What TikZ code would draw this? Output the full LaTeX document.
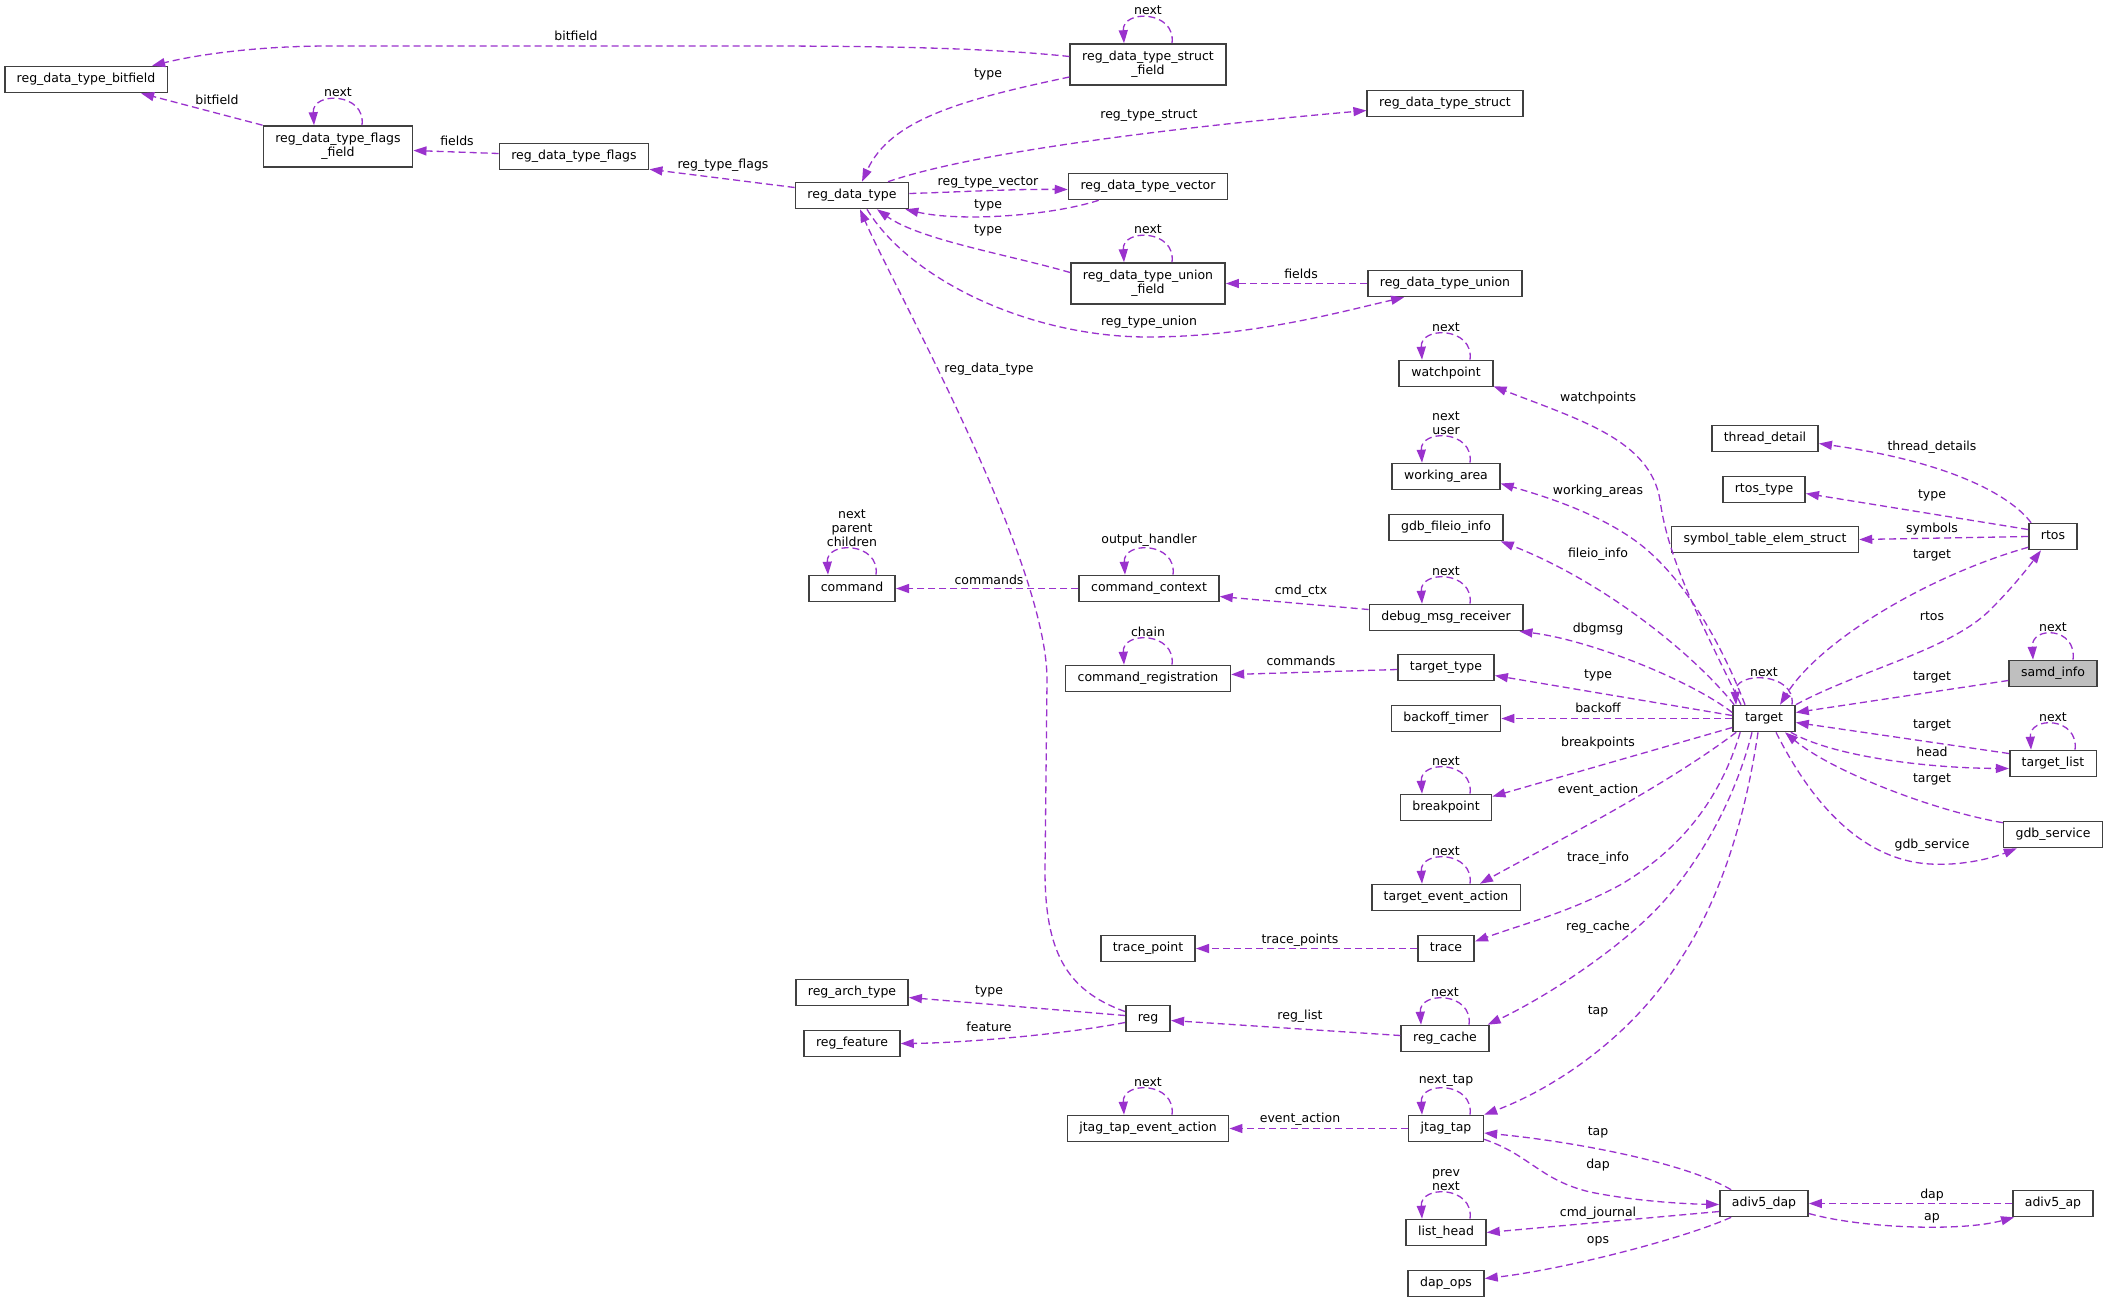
\documentclass[tikz,border=0pt]{standalone}
\usepackage{fontspec}
\setmainfont{DejaVu Sans}
\usetikzlibrary{arrows.meta,calc}
\definecolor{edgec}{HTML}{9A32CD}
\definecolor{boxc}{HTML}{404040}
\definecolor{grayfill}{HTML}{BFBFBF}
\tikzset{
 cls/.style={draw=boxc, line width=1.6pt, fill=white, rectangle, inner xsep=12pt, inner ysep=0pt, minimum height=26pt, text height=9.5pt, text depth=3pt, font=\fontsize{12.5}{14}\selectfont},
 cls2/.style={draw=boxc, line width=1.6pt, fill=white, rectangle, inner xsep=12pt, inner ysep=0pt, minimum height=41pt, align=center, font=\fontsize{12.5}{14}\selectfont},
 edge/.style={draw=edgec, line width=1.3pt, dash pattern=on 7pt off 4pt, -{Triangle[length=13pt,width=9pt,fill=edgec]}},
 elbl/.style={inner sep=0pt, text height=9.5pt, text depth=3pt, font=\fontsize{12.5}{14}\selectfont},
 looplbl/.style={inner sep=0pt, anchor=south, align=center, font=\fontsize{12.5}{14}\selectfont},
}
\newcommand{\selfloop}[3][24]{%
 \draw[edge] ($(#2.north)+(#1,0)$) .. controls +(4,-33) and +(-2,-34) .. ($(#2.north)+(-#1,0)$);
 \node[looplbl] (#2-lbl) at ($(#2.north)+(0,-28)$) {#3};}
\begin{document}
\begin{tikzpicture}[x=1pt,y=-1pt]
\useasboundingbox (0,0) rectangle (2108,1299);
\fill[white] (0,0) rectangle (2108,1299);
% nodes
\begin{scope}[yshift=-0.5pt]
\node[cls] (bitfield) at (86,79) {reg\_data\_type\_bitfield};
\node[cls2] (flagsfield) at (338,146) {reg\_data\_type\_flags\\\_field};
\node[cls] (flags) at (574,156) {reg\_data\_type\_flags};
\node[cls] (rdt) at (852,195) {reg\_data\_type};
\node[cls2] (structfield) at (1148,64) {reg\_data\_type\_struct\\\_field};
\node[cls] (struct) at (1445,103) {reg\_data\_type\_struct};
\node[cls] (vector) at (1148,186) {reg\_data\_type\_vector};
\node[cls2] (unionfield) at (1148,283) {reg\_data\_type\_union\\\_field};
\node[cls] (union) at (1445,283) {reg\_data\_type\_union};
\node[cls] (command) at (852,588) {command};
\node[cls] (cmdctx) at (1149,588) {command\_context};
\node[cls] (cmdreg) at (1148,678) {command\_registration};
\node[cls] (tracepoint) at (1148,948) {trace\_point};
\node[cls] (regarch) at (852,992) {reg\_arch\_type};
\node[cls] (regfeat) at (852,1043) {reg\_feature};
\node[cls] (reg) at (1148,1018) {reg};
\node[cls] (jtea) at (1148,1128) {jtag\_tap\_event\_action};
\node[cls] (watchpoint) at (1446,373) {watchpoint};
\node[cls] (workarea) at (1446,476) {working\_area};
\node[cls] (fileio) at (1446,527) {gdb\_fileio\_info};
\node[cls] (dmr) at (1446,617) {debug\_msg\_receiver};
\node[cls] (ttype) at (1446,667) {target\_type};
\node[cls] (backoff) at (1446,718) {backoff\_timer};
\node[cls] (breakpoint) at (1446,807) {breakpoint};
\node[cls] (tea) at (1446,897) {target\_event\_action};
\node[cls] (trace) at (1446,948) {trace};
\node[cls] (regcache) at (1445,1038) {reg\_cache};
\node[cls] (jtag) at (1446,1128) {jtag\_tap};
\node[cls] (listhead) at (1446,1232) {list\_head};
\node[cls] (dapops) at (1446,1283) {dap\_ops};
\node[cls] (target) at (1764,718) {target};
\node[cls] (thread) at (1765,438) {thread\_detail};
\node[cls] (rtostype) at (1764,489) {rtos\_type};
\node[cls] (symtab) at (1765,539) {symbol\_table\_elem\_struct};
\node[cls] (adiv5dap) at (1764,1203) {adiv5\_dap};
\node[cls] (rtos) at (2053,536) {rtos};
\node[cls,fill=grayfill] (samd) at (2053,673) {samd\_info};
\node[cls] (tlist) at (2053,763) {target\_list};
\node[cls] (gdbsvc) at (2053,834) {gdb\_service};
\node[cls] (adiv5ap) at (2053,1203) {adiv5\_ap};
\end{scope}
% edges
\draw[edge] ($(structfield.west)+(0,-8)$) .. controls (980,47) and (860,46) .. (750,46) -- (330,46) .. controls (260,46) and (200,54) .. ($(bitfield.north east)+(-16,0)$);
\draw[edge] (flagsfield.north west) -- ($(bitfield.south east)+(-27,0)$);
\draw[edge] ($(flags.west)+(0,-3)$) -- ($(flagsfield.east)+(0,4)$);
\draw[edge] ($(rdt.west)+(0,-8)$) -- ($(flags.south east)+(0,-1)$);
\draw[edge] ($(structfield.west)+(0,12.5)$) .. controls (960,100) and (890,120) .. ($(rdt.north)+(10,0)$);
\draw[edge] ($(rdt.north)+(36,0)$) .. controls (980,150) and (1200,125) .. ($(struct.west)+(0,7)$);
\draw[edge] ($(rdt.east)+(0,-2)$) .. controls (960,192) and (1010,189) .. ($(vector.west)+(0,3)$);
\draw[edge] ($(vector.south west)+(31,0)$) .. controls (1050,216) and (960,222) .. ($(rdt.south east)+(-4,0)$);
\draw[edge] ($(unionfield.west)+(0,-11)$) .. controls (1010,255) and (920,240) .. ($(rdt.south)+(25,0)$);
\draw[edge] (union.west) -- (unionfield.east);
\draw[edge] ($(rdt.south)+(15,0)$) .. controls (910,280) and (1030,337) .. (1148,337) .. controls (1250,337) and (1340,312) .. ($(union.south west)+(37,0)$);
\draw[edge] ($(reg.west)+(0,-7)$) .. controls (1065,990) and (1045,950) .. (1045,870) -- (1047,680) .. controls (1047,560) and (895,290) .. ($(rdt.south)+(8,0)$);
\draw[edge] (cmdctx.west) -- (command.east);
\draw[edge] ($(dmr.west)+(0,-8)$) -- ($(cmdctx.east)+(0,8)$);
\draw[edge] ($(ttype.west)+(0,2)$) -- ($(cmdreg.east)+(0,-4)$);
\draw[edge] ($(target.north)+(-23,0)$) .. controls (1700,620) and (1668,560) .. (1660,500) .. controls (1650,440) and (1580,420) .. ($(watchpoint.south east)+(0,-1)$);
\draw[edge] ($(target.north)+(-19,0)$) .. controls (1720,640) and (1680,570) .. (1630,537) .. controls (1590,510) and (1540,495) .. ($(workarea.east)+(0,7)$);
\draw[edge] ($(target.north west)+(2,0)$) .. controls (1690,650) and (1600,580) .. ($(fileio.south east)+(-3,0)$);
\draw[edge] ($(target.west)+(0,-6)$) .. controls (1690,680) and (1590,640) .. ($(dmr.south east)+(-4,0)$);
\draw[edge] ($(target.west)+(0,-3)$) -- ($(ttype.east)+(0,8)$);
\draw[edge] (target.west) -- (backoff.east);
\draw[edge] (target.north east) .. controls (1860,670) and (1950,650) .. (1990,610) .. controls (2015,585) and (2030,565) .. ($(rtos.south)+(-12,0)$);
\draw[edge] ($(rtos.south west)+(0,-3)$) .. controls (1930,575) and (1820,640) .. ($(target.north)+(16,0)$);
\draw[edge] ($(rtos.north west)+(3,0)$) .. controls (2010,495) and (1950,462) .. ($(thread.east)+(0,5)$);
\draw[edge] ($(rtos.west)+(0,-7)$) -- ($(rtostype.east)+(0,4)$);
\draw[edge] (rtos.west) -- (symtab.east);
\draw[edge] ($(samd.west)+(0,7)$) -- ($(target.east)+(0,-6)$);
\draw[edge] ($(tlist.west)+(0,-10)$) -- ($(target.east)+(0,4)$);
\draw[edge] ($(target.south east)+(-5,0)$) .. controls (1830,755) and (1920,768) .. ($(tlist.west)+(0,5)$);
\draw[edge] ($(gdbsvc.north west)+(0,2)$) .. controls (1930,810) and (1830,770) .. ($(target.south)+(21,0)$);
\draw[edge] ($(target.south)+(12,0)$) .. controls (1810,800) and (1860,860) .. (1930,864) .. controls (1965,866) and (1995,857) .. ($(gdbsvc.south west)+(14,0)$);
\draw[edge] ($(target.west)+(0,9)$) -- ($(breakpoint.east)+(0,-11)$);
\draw[edge] ($(target.south west)+(4,0)$) .. controls (1660,790) and (1540,850) .. ($(tea.north)+(34,0)$);
\draw[edge] ($(target.south west)+(8,0)$) .. controls (1720,800) and (1680,850) .. (1620,885) .. controls (1570,912) and (1520,925) .. ($(trace.east)+(0,-7)$);
\draw[edge] (trace.west) -- (tracepoint.east);
\draw[edge] ($(target.south)+(-12,0)$) .. controls (1735,800) and (1700,860) .. (1664,901) .. controls (1625,945) and (1550,995) .. ($(regcache.north east)+(-2,0)$);
\draw[edge] ($(regcache.west)+(0,-3)$) -- ($(reg.east)+(0,2)$);
\draw[edge] ($(reg.west)+(0,-3)$) -- ($(regarch.east)+(0,5)$);
\draw[edge] ($(reg.west)+(0,4)$) .. controls (1060,1035) and (960,1043) .. (regfeat.east);
\draw[edge] ($(target.south)+(-6,0)$) .. controls (1745,820) and (1720,900) .. (1680,960) .. controls (1630,1040) and (1550,1090) .. (jtag.north east);
\draw[edge] (jtag.west) -- (jtea.east);
\draw[edge] ($(adiv5dap.north west)+(12,0)$) .. controls (1680,1160) and (1560,1140) .. ($(jtag.east)+(0,4.5)$);
\draw[edge] ($(jtag.south east)+(0,-3)$) .. controls (1530,1155) and (1540,1180) .. (1590,1192) .. controls (1640,1202) and (1690,1204) .. ($(adiv5dap.west)+(0,1)$);
\draw[edge] ($(adiv5dap.west)+(0,8)$) -- (listhead.east);
\draw[edge] ($(adiv5dap.south west)+(12,0)$) .. controls (1680,1240) and (1560,1270) .. ($(dapops.east)+(0,-5)$);
\draw[edge] (adiv5ap.west) -- (adiv5dap.east);
\draw[edge] ($(adiv5dap.east)+(0,10)$) .. controls (1860,1228) and (1960,1232) .. ($(adiv5ap.south west)+(2,0)$);
% self loops
\selfloop{structfield}{next}
\selfloop{flagsfield}{next}
\selfloop{unionfield}{next}
\selfloop{command}{next\\parent\\children}
\selfloop{cmdctx}{output\_handler}
\selfloop{cmdreg}{chain}
\selfloop{dmr}{next}
\selfloop{watchpoint}{next}
\selfloop{workarea}{next\\user}
\selfloop[28]{target}{next}
\selfloop[20]{samd}{next}
\selfloop[22]{tlist}{next}
\selfloop{breakpoint}{next}
\selfloop{tea}{next}
\selfloop{regcache}{next}
\selfloop{jtag}{next\_tap}
\selfloop{jtea}{next}
\selfloop{listhead}{prev\\next}
% edge labels
\node[elbl] (l1) at (576,37) {bitfield};
\node[elbl] (l2) at (217,101) {bitfield};
\node[elbl] (l4) at (457,142) {fields};
\node[elbl] (l5) at (723,165) {reg\_type\_flags};
\node[elbl] (l6) at (988,74) {type};
\node[elbl] (l7) at (1149,115) {reg\_type\_struct};
\node[elbl] (l8) at (988,182) {reg\_type\_vector};
\node[elbl] (l9) at (988,205) {type};
\node[elbl] (l10) at (988,230) {type};
\node[elbl] (l12) at (1301,275) {fields};
\node[elbl] (l13) at (1149,322) {reg\_type\_union};
\node[elbl] (l14) at (989,369) {reg\_data\_type};
\node[elbl] (l15) at (989,581) {commands};
\node[elbl] (l18) at (1301,591) {cmd\_ctx};
\node[elbl] (l20) at (1301,662) {commands};
\node[elbl] (l24) at (1598,398) {watchpoints};
\node[elbl] (l25) at (1598,491) {working\_areas};
\node[elbl] (l26) at (1598,554) {fileio\_info};
\node[elbl] (l27) at (1598,629) {dbgmsg};
\node[elbl] (l28) at (1598,675) {type};
\node[elbl] (l29) at (1598,709) {backoff};
\node[elbl] (l31) at (1932,617) {rtos};
\node[elbl] (l32) at (1932,555) {target};
\node[elbl] (l33) at (1932,447) {thread\_details};
\node[elbl] (l34) at (1932,495) {type};
\node[elbl] (l35) at (1932,529) {symbols};
\node[elbl] (l36) at (1932,677) {target};
\node[elbl] (l38) at (1932,725) {target};
\node[elbl] (l39) at (1932,753) {head};
\node[elbl] (l41) at (1932,779) {target};
\node[elbl] (l42) at (1932,845) {gdb\_service};
\node[elbl] (l43) at (1598,743) {breakpoints};
\node[elbl] (l45) at (1598,790) {event\_action};
\node[elbl] (l47) at (1598,858) {trace\_info};
\node[elbl] (l48) at (1300,940) {trace\_points};
\node[elbl] (l49) at (1598,927) {reg\_cache};
\node[elbl] (l51) at (1300,1016) {reg\_list};
\node[elbl] (l52) at (989,991) {type};
\node[elbl] (l53) at (989,1028) {feature};
\node[elbl] (l54) at (1598,1011) {tap};
\node[elbl] (l56) at (1300,1119) {event\_action};
\node[elbl] (l58) at (1598,1132) {tap};
\node[elbl] (l59) at (1598,1165) {dap};
\node[elbl] (l60) at (1598,1213) {cmd\_journal};
\node[elbl] (l62) at (1598,1240) {ops};
\node[elbl] (l63) at (1932,1195) {dap};
\node[elbl] (l64) at (1932,1217) {ap};
\end{tikzpicture}
\end{document}
